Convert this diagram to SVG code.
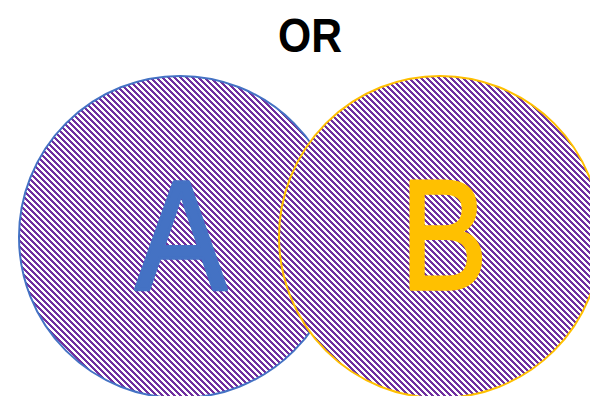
<svg xmlns="http://www.w3.org/2000/svg" width="590" height="396" viewBox="0 0 590 396">
<defs>
<pattern id="hatch" patternUnits="userSpaceOnUse" x="0" y="0" width="6" height="6">
<rect width="6" height="6" fill="#ffffff" shape-rendering="crispEdges"/>
<path shape-rendering="crispEdges" fill="#7030A0" d="M0 0h3v1h-3zM1 1h3v1h-3zM2 2h3v1h-3zM3 3h3v1h-3zM4 4h2v1h-2zM0 4h1v1h-1zM5 5h1v1h-1zM0 5h2v1h-2z"/>
</pattern>
<style>
.big{font-family:"Liberation Sans",Arial,sans-serif;font-size:156px;text-anchor:middle;stroke-width:3.5;stroke-linejoin:round}
</style>
</defs>
<rect width="590" height="396" fill="#ffffff"/>
<text x="310" y="52" font-family="Liberation Sans,Arial,sans-serif" font-weight="bold" font-size="49" text-anchor="middle" textLength="64" lengthAdjust="spacingAndGlyphs">OR</text>
<g id="nodeA">
<circle cx="180" cy="237" r="161" fill="url(#hatch)" stroke="#4472C4" stroke-width="2"/>
<text class="big" transform="translate(181,289) scale(0.88,1)" fill="#4472C4" stroke="#4472C4">A</text>
</g>
<g id="nodeB">
<circle cx="440" cy="237" r="161" fill="url(#hatch)" stroke="#FFC000" stroke-width="2"/>
<text class="big" transform="translate(444,289) scale(0.84,1)" fill="#FFC000" stroke="#FFC000">B</text>
</g>
<g id="connectors"/>
</svg>
